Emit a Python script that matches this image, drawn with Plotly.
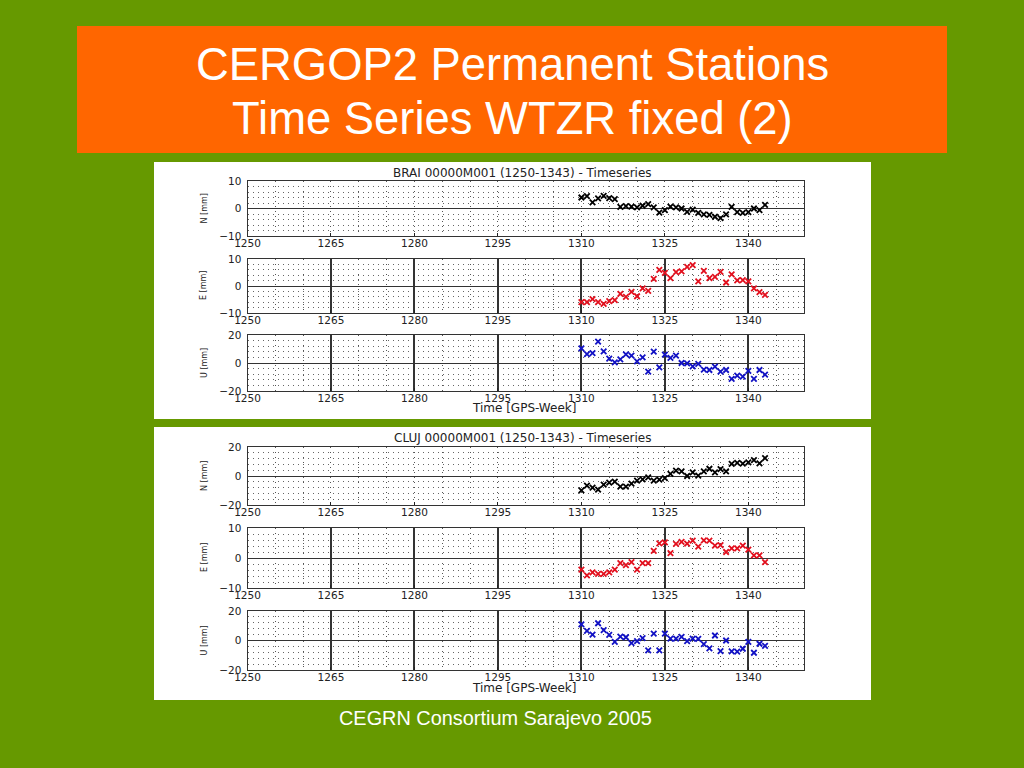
#!/usr/bin/env python3
"""CERGOP2 permanent stations: N/E/U time series for BRAI and CLUJ (WTZR fixed)."""

import plotly.graph_objects as go

W, H = 1024, 768

weeks = list(range(1310, 1344))
x_ticks = [1250, 1265, 1280, 1295, 1310, 1325, 1340]

brai_n = [4, 4.5, 2.2, 3.7, 4.6, 3.8, 3.4, 0.6, 0.9, 0.7, 0.4, 1, 1.6, 0.4, -1.5, -0.6, 0.7,
          0.4, 0, -1.2, -0.4, -1.6, -2.1, -2.3, -3, -3.5, -2.1, 0.6, -1.3, -1.6, -1.3, 0, -0.6, 1.3]
brai_e = [-6, -6, -4.9, -6, -6.6, -5.6, -5.2, -2.9, -4, -2.2, -3.8, -0.9, -1.8, 2.6, 6, 4.9, 2.9,
          5.1, 5.4, 7.1, 7.7, 1.7, 5.6, 2.9, 3.4, 5.2, 1.3, 4.3, 2.1, 2.2, 1.7, -0.9, -2.3, -3.3]
brai_u = [10.5, 6.4, 7.1, 15.2, 8.3, 3.1, 0.5, 2.6, 6.2, 5.2, 1.2, 4, -6.2, 8.1, -3.1, 6, 3.6,
          5.2, 0, -0.2, -2.4, -0.7, -4.8, -5, -2.6, -6.2, -5, -11.4, -9, -9.8, -5.7, -11.4, -5, -8.3]
cluj_n = [-9.9, -6.7, -8, -9.4, -6, -4.6, -3.9, -7.4, -7.4, -5.3, -3.2, -2.3, -0.9, -3.2, -2.5, -1.4, 1.4,
          3.7, 3.2, 0, 2.5, 0.2, 3.2, 5, 2.5, 4.8, 3.2, 8.3, 9, 8.5, 9.4, 11, 8.7, 12.4]
cluj_e = [-3.9, -5.8, -4.8, -5.3, -5.3, -4.8, -3.9, -1.7, -2.4, -1.4, -3.9, -1.7, -1.7, 2.4, 4.9, 5.2, 1.6,
          4.7, 5.4, 4.8, 5.8, 3.8, 5.9, 5.8, 4.1, 4.3, 2, 3.2, 3.2, 4.1, 2.8, 0.9, 0.9, -1.4]
cluj_u = [11, 6.5, 4, 11.7, 7, 3.8, -0.9, 2.7, 2.2, -1.8, -0.4, 1.6, -6.7, 4.7, -6.7, 4.7, 1.3,
          1.3, 2.5, -0.4, 1.3, 1.1, -2.5, -5.4, 3.4, -7.2, 0, -7.4, -7.6, -5.6, -0.9, -8.3, -2.2, -3.6]

BLACK, RED, BLUE = "#000000", "#e2101e", "#1212c4"

# panel: values, label, limit, colour, solid week lines?, top px, bottom px
panels = [
    (brai_n, "N [mm]", 10, BLACK, False, 181, 236),
    (brai_e, "E [mm]", 10, RED, True, 259, 313),
    (brai_u, "U [mm]", 20, BLUE, True, 335, 391),
    (cluj_n, "N [mm]", 20, BLACK, False, 447, 505),
    (cluj_e, "E [mm]", 10, RED, True, 528, 588),
    (cluj_u, "U [mm]", 20, BLUE, True, 611, 670),
]

LEFT, RIGHT = 247.5, 804


def px(x):
    return x / W


def py(y):
    return 1 - y / H


def rect(x0, y0, x1, y1, color):
    return dict(type="rect", xref="paper", yref="paper", layer="below",
                x0=px(x0), x1=px(x1), y0=py(y0), y1=py(y1),
                fillcolor=color, line_width=0)


def text(x, y, s, size, color="#222222", family="DejaVu Sans", angle=0):
    return dict(x=px(x), y=py(y), xref="paper", yref="paper", text=s, showarrow=False,
                xanchor="center", yanchor="middle", textangle=angle,
                font=dict(size=size, color=color, family=family))


fig = go.Figure()
layout_axes = {}
annotations = [
    text(512, 64, "CERGOP2 Permanent Stations", 45.4, "#ffffff", "Liberation Sans"),
    text(512, 119, "Time Series WTZR fixed (2)", 45.4, "#ffffff", "Liberation Sans"),
    text(495, 718, "CEGRN Consortium Sarajevo 2005", 19.9, "#ffffff", "Liberation Sans"),
    text(522, 173, "BRAI 00000M001 (1250-1343) - Timeseries", 12),
    text(522, 438, "CLUJ 00000M001 (1250-1343) - Timeseries", 12),
    text(524, 408, "Time [GPS-Week]", 12),
    text(524, 688, "Time [GPS-Week]", 12),
]

for i, (vals, label, limit, color, solid, top, bottom) in enumerate(panels, start=1):
    fig.add_trace(go.Scatter(
        x=weeks, y=vals, mode="markers", xaxis=f"x{i}", yaxis=f"y{i}", showlegend=False,
        marker=dict(symbol="x-thin", size=5.5, line=dict(width=1.8, color=color)),
    ))
    layout_axes[f"xaxis{i}"] = dict(
        domain=[px(LEFT), px(RIGHT)], range=[1250, 1350], anchor=f"y{i}",
        tickmode="array", tickvals=x_ticks, ticks="inside", ticklen=3, tickcolor="#222222",
        ticklabelstandoff=-3,
        tickfont=dict(size=10.5, family="DejaVu Sans", color="#222222"),
        showline=True, mirror=True, linecolor="#333333", linewidth=1,
        showgrid=solid, gridcolor="#333333", gridwidth=1.5,
        minor=dict(tickmode="array", tickvals=list(range(1255, 1350, 5)),
                   showgrid=True, griddash="1px,4px", gridcolor="#555555", gridwidth=1, ticks=""),
        zeroline=False,
    )
    layout_axes[f"yaxis{i}"] = dict(
        domain=[py(bottom), py(top)], range=[-limit, limit], anchor=f"x{i}",
        tickmode="array", tickvals=[-limit, 0, limit], ticks="", ticklabelstandoff=3,
        tickfont=dict(size=10.5, family="DejaVu Sans", color="#222222"),
        showline=True, mirror=True, linecolor="#333333", linewidth=1,
        showgrid=True, gridcolor="#333333", gridwidth=1,
        minor=dict(dtick=limit / 5, showgrid=True, griddash="1px,4px", gridcolor="#666666", gridwidth=1, ticks=""),
        zeroline=False,
    )
    annotations.append(text(204, (top + bottom) / 2, label, 8, angle=-90))

fig.update_layout(
    width=W, height=H, margin=dict(l=0, r=0, t=0, b=0, autoexpand=False),
    paper_bgcolor="#669900", plot_bgcolor="rgba(0,0,0,0)",
    shapes=[
        rect(77, 26, 947, 153, "#ff6600"),
        rect(154, 162, 871, 419, "#ffffff"),
        rect(154, 427, 871, 700, "#ffffff"),
    ],
    annotations=annotations,
    **layout_axes,
)

fig.write_html("out.html", config={"displayModeBar": False},
               post_script="document.body.style.margin='0';")
